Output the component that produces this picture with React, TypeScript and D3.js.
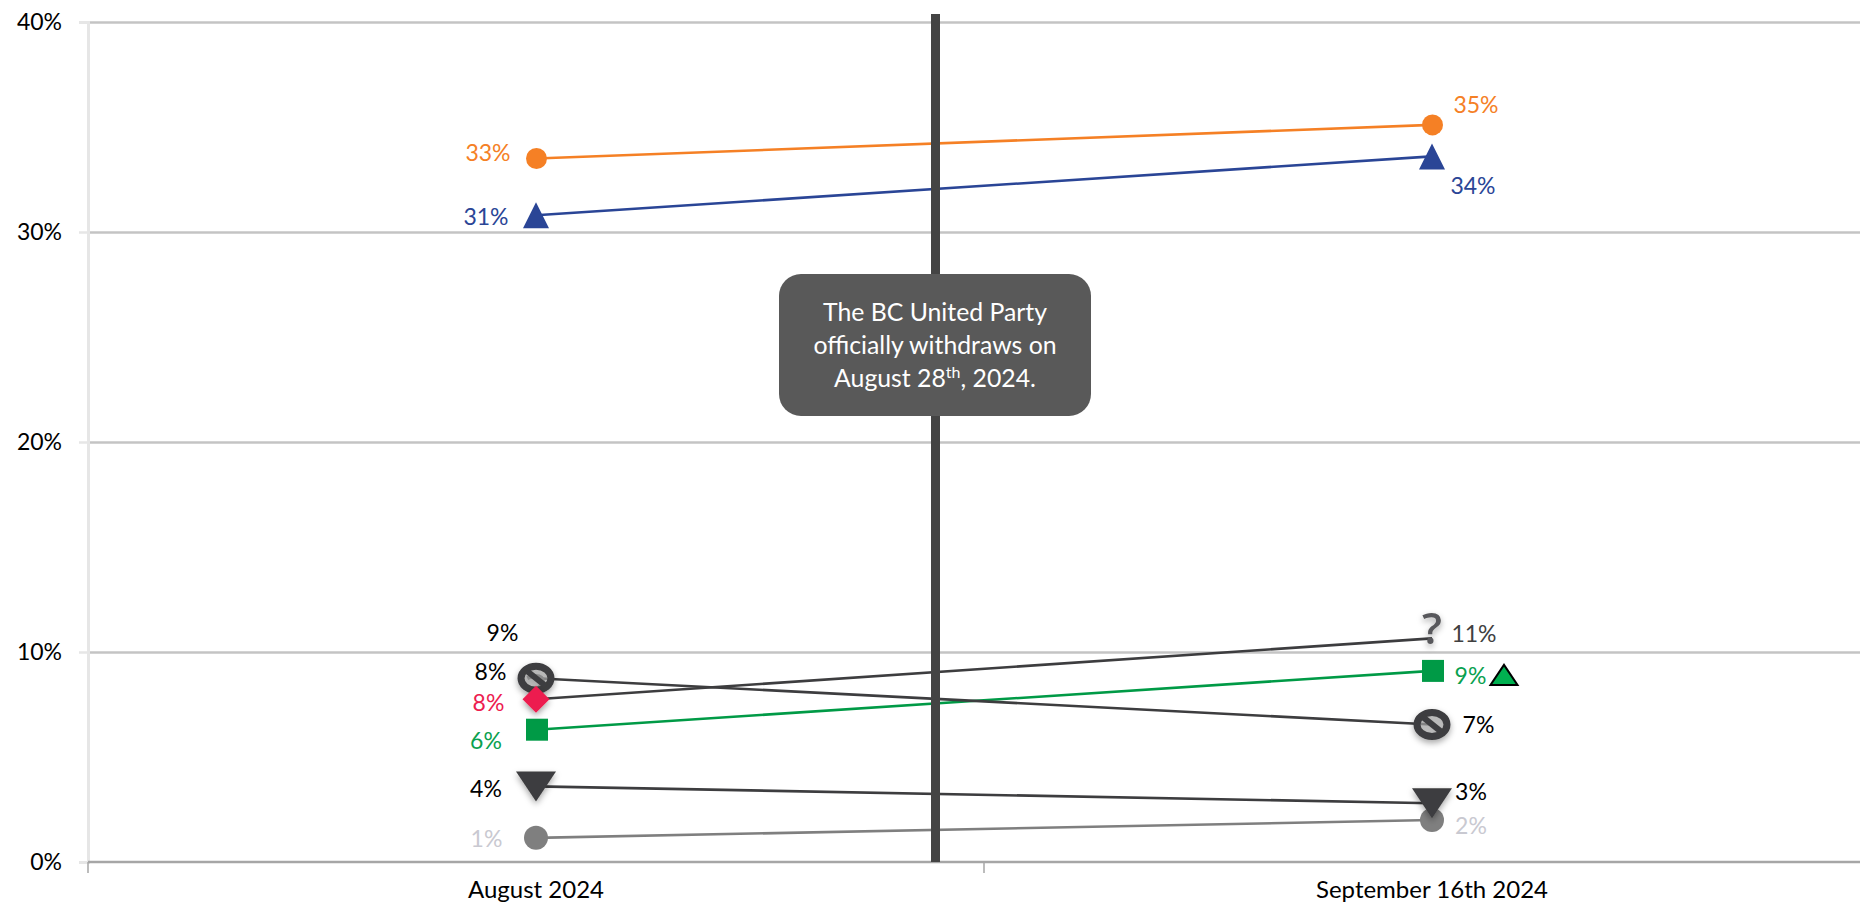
import React, { useRef, useEffect } from 'react';
import * as d3 from 'd3';

const categories = ['August 2024', 'September 16th 2024'];
const yTicks = [0, 10, 20, 30, 40];

// values, labels are what the chart prints
const orangeValues = [33.5, 35.1];
const orangeLabels = ['33%', '35%'];
const blueValues = [30.8, 33.6];
const blueLabels = ['31%', '34%'];
const banValues = [8.75, 6.55];
const banLabels = ['9%', '7%'];
const questionValues = [7.75, 10.65];
const questionLabels = ['8%', '11%'];
const greenValues = [6.3, 9.1];
const greenLabels = ['6%', '9%'];
const downValues = [3.6, 2.8];
const downLabels = ['4%', '3%'];
const greyValues = [1.15, 2.0];
const greyLabels = ['1%', '2%'];
const diamondValue = 7.75;
const diamondLabel = '8%';

const calloutLines = ['The BC United Party', 'officially withdraws on'];

const width = 1860;
const height = 902;
const font = 'Lato, sans-serif';
const labelSize = 23;

const series = [
  { values: greyValues, labels: greyLabels, line: '#7f7f7f', text: '#c9c9d1', marker: 'grey', offsets: [[-49.5, 1], [39, 5.5]], textColors: null },
  { values: downValues, labels: downLabels, line: '#3d3d3f', text: '#000', marker: 'down', offsets: [[-50, 3], [39, -11]], textColors: null },
  { values: greenValues, labels: greenLabels, line: '#009a46', text: '#0aa14f', marker: 'square', offsets: [[-50, 11], [38.5, 5]], textColors: null },
  { values: questionValues, labels: questionLabels, line: '#3d3d3f', text: '#000', marker: 'question', offsets: [[-45.5, -27], [42, -4]], textColors: ['#000', '#404040'] },
  { values: banValues, labels: banLabels, line: '#3d3d3f', text: '#000', marker: 'ban', offsets: [[-33.5, -45], [46.5, 0.5]], textColors: null },
  { values: blueValues, labels: blueLabels, line: '#2a4596', text: '#2a4596', marker: 'up', offsets: [[-50, 2], [41, 30]], textColors: null },
  { values: orangeValues, labels: orangeLabels, line: '#f58025', text: '#f58025', marker: 'circle', offsets: [[-48, -5.5], [44, -20]], textColors: null },
];

const App = () => {
  const svgRef = useRef(null);

  useEffect(() => {
    const svg = d3.select(svgRef.current);
    svg.selectAll('*').remove();

    const defs = svg.append('defs');
    defs
      .append('filter')
      .attr('id', 'markerShadow')
      .attr('x', '-50%')
      .attr('y', '-50%')
      .attr('width', '200%')
      .attr('height', '200%')
      .append('feDropShadow')
      .attr('dx', 0)
      .attr('dy', 3)
      .attr('stdDeviation', 3)
      .attr('flood-color', '#000')
      .attr('flood-opacity', 0.35);

    const xScale = d3.scaleBand().domain(categories).range([88, 1880]);
    const yScale = d3.scaleLinear().domain([0, 40]).range([862, 22]);
    const cx = (c: string) => (xScale(c) as number) + xScale.bandwidth() / 2;

    // gridlines
    const grid = svg.append('g').attr('transform', 'translate(88,0)');
    grid.call(d3.axisRight(yScale).tickValues(yTicks.slice(1)).tickSize(width - 88).tickFormat(() => ''));
    grid.select('.domain').remove();
    grid.selectAll('line').attr('stroke', '#c4c4c4').attr('stroke-width', 2.5);

    // left axis
    const yAxis = svg.append('g').attr('transform', 'translate(88,0)');
    yAxis.call(
      d3
        .axisLeft(yScale)
        .tickValues(yTicks)
        .tickSize(9)
        .tickPadding(17)
        .tickFormat((d) => `${d}%`),
    );
    yAxis.select('.domain').attr('stroke', '#e6e6e6').attr('stroke-width', 3);
    yAxis.selectAll('line').attr('stroke', '#e6e6e6').attr('stroke-width', 2.5);
    yAxis.selectAll('text').attr('font-family', font).attr('font-size', labelSize).attr('fill', '#000');

    // bottom axis: labels sit mid band, ticks on band edges
    const xAxis = svg.append('g').attr('transform', `translate(0,${yScale(0)})`);
    xAxis.call(d3.axisBottom(xScale).tickSize(0).tickPadding(19));
    xAxis.select('.domain').remove();
    xAxis.selectAll('text').attr('font-family', font).attr('font-size', 24).attr('fill', '#000');
    xAxis
      .append('line')
      .attr('x1', xScale.range()[0])
      .attr('x2', width)
      .attr('stroke', '#a6a6a6')
      .attr('stroke-width', 2.5);
    xAxis
      .selectAll('.edge')
      .data(xScale.domain().map((c) => xScale(c) as number).concat(xScale.range()[1]))
      .enter()
      .append('line')
      .attr('x1', (d) => d)
      .attr('x2', (d) => d)
      .attr('y1', 0)
      .attr('y2', 11)
      .attr('stroke', '#a6a6a6')
      .attr('stroke-width', 1.5);

    // lines
    const lineGen = d3
      .line<number>()
      .x((_, i) => cx(categories[i]))
      .y((d) => yScale(d));
    series.forEach((s) => {
      svg
        .append('path')
        .attr('d', lineGen(s.values))
        .attr('fill', 'none')
        .attr('stroke', s.line)
        .attr('stroke-width', 2.6);
    });

    // event bar
    svg
      .append('rect')
      .attr('x', 931)
      .attr('y', 14)
      .attr('width', 9)
      .attr('height', yScale(0) - 14)
      .attr('fill', '#444');

    // markers
    const drawMarker = (kind: string, x: number, y: number) => {
      const g = svg.append('g').attr('transform', `translate(${x},${y})`);
      if (kind === 'grey') {
        g.append('circle').attr('r', 12).attr('fill', '#7f7f7f');
      } else if (kind === 'circle') {
        g.append('circle').attr('cx', 0.5).attr('r', 10.5).attr('fill', '#f58025');
      } else if (kind === 'square') {
        g.append('rect').attr('x', -10).attr('y', -11).attr('width', 22).attr('height', 22).attr('fill', '#009a46');
      } else if (kind === 'up') {
        g.append('path').attr('d', 'M0,-13L13,13L-13,13Z').attr('fill', '#2a4596');
      } else if (kind === 'down') {
        g.append('path')
          .attr('d', 'M-20,-15L20,-15L0,15Z')
          .attr('fill', '#3d3d3f')
          .attr('filter', 'url(#markerShadow)');
      } else if (kind === 'diamond') {
        g.append('path')
          .attr('d', 'M0,-13.5L13.5,0L0,13.5L-13.5,0Z')
          .attr('fill', '#ed1c4f')
          .attr('filter', 'url(#markerShadow)');
      } else if (kind === 'question') {
        g.append('text')
          .attr('text-anchor', 'middle')
          .attr('y', 6)
          .attr('font-family', 'Open Sans, sans-serif')
          .attr('font-weight', 600)
          .attr('font-size', 44)
          .attr('fill', '#59595b')
          .attr('filter', 'url(#markerShadow)')
          .text('?');
      } else if (kind === 'ban') {
        const b = g.append('g').attr('filter', 'url(#markerShadow)');
        b.append('ellipse')
          .attr('rx', 15)
          .attr('ry', 12)
          .attr('fill', '#aaa')
          .attr('fill-opacity', 0.6)
          .attr('stroke', '#3d3d3f')
          .attr('stroke-width', 7);
        b.append('line')
          .attr('x1', -10)
          .attr('y1', -8)
          .attr('x2', 10)
          .attr('y2', 8)
          .attr('stroke', '#3d3d3f')
          .attr('stroke-width', 6);
      }
    };

    series.forEach((s) => {
      s.values.forEach((v, i) => drawMarker(s.marker, cx(categories[i]), yScale(v)));
    });
    drawMarker('diamond', cx(categories[0]), yScale(diamondValue));

    // value labels
    const drawLabel = (t: string, x: number, y: number, color: string) => {
      svg
        .append('text')
        .attr('x', x)
        .attr('y', y)
        .attr('dy', '0.35em')
        .attr('text-anchor', 'middle')
        .attr('font-family', font)
        .attr('font-size', labelSize)
        .attr('fill', color)
        .text(t);
    };
    series.forEach((s) => {
      s.values.forEach((v, i) => {
        const [dx, dy] = s.offsets[i];
        const color = s.textColors ? s.textColors[i] : s.text;
        drawLabel(s.labels[i], cx(categories[i]) + dx, yScale(v) + dy, color);
      });
    });
    drawLabel(diamondLabel, cx(categories[0]) - 47.5, yScale(diamondValue) + 4, '#ed1c4f');

    // small green triangle after the 9% label
    svg
      .append('path')
      .attr('transform', `translate(${cx(categories[1]) + 72},${yScale(greenValues[1]) + 4})`)
      .attr('d', 'M0,-10L13.5,10L-13.5,10Z')
      .attr('fill', '#00b050')
      .attr('stroke', '#000')
      .attr('stroke-width', 2)
      .attr('stroke-linejoin', 'miter');

    // callout
    const callout = svg.append('g');
    callout
      .append('rect')
      .attr('x', 779)
      .attr('y', 274)
      .attr('width', 312)
      .attr('height', 142)
      .attr('rx', 22)
      .attr('fill', '#595959');
    const calloutText = callout
      .append('text')
      .attr('text-anchor', 'middle')
      .attr('font-family', font)
      .attr('font-size', 24.8)
      .attr('fill', '#fff');
    calloutLines.forEach((t, i) => {
      calloutText
        .append('tspan')
        .attr('x', 935)
        .attr('y', 321 + i * 32.5)
        .text(t);
    });
    const last = calloutText.append('tspan').attr('x', 935).attr('y', 387);
    last.append('tspan').text('August 28');
    last.append('tspan').attr('dy', -9).attr('font-size', 16).text('th');
    last.append('tspan').attr('dy', 9).text(', 2024.');
  }, []);

  return (
    <svg
      ref={svgRef}
      width={width}
      height={height}
      style={{ position: 'absolute', left: 0, top: 0, background: '#fff' }}
    />
  );
};

export default App;
